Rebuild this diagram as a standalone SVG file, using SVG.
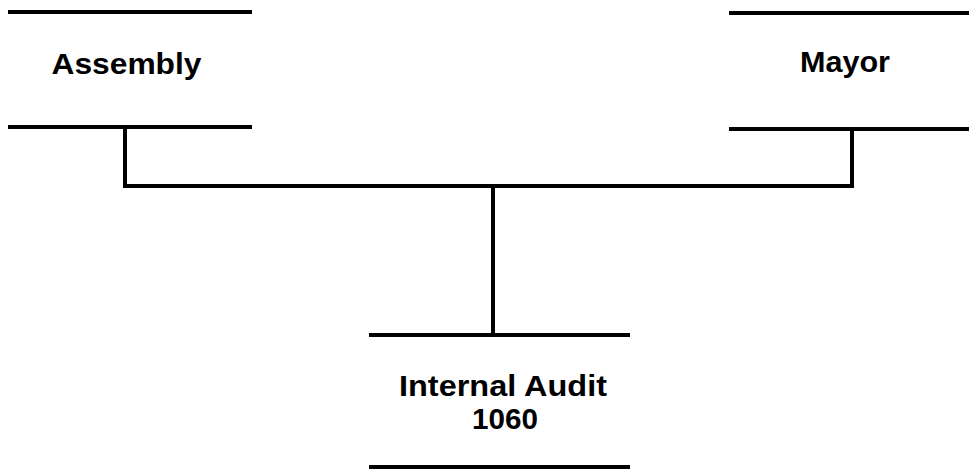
<svg xmlns="http://www.w3.org/2000/svg" width="969" height="472" viewBox="0 0 969 472">
<style>
.bar{stroke:#000;stroke-width:4;fill:none}
.conn{stroke:#000;stroke-width:4;fill:none;stroke-linecap:square}
text{font-family:"Liberation Sans",Arial,sans-serif;font-weight:bold;font-size:30px;fill:#000;text-anchor:middle}
</style>
<rect width="969" height="472" fill="#fff"/>
<g id="connectors">
<path class="conn" d="M125 127 V186 H852 V129"/>
<path class="conn" d="M493 186 V335"/>
</g>
<g id="assembly">
<line class="bar" x1="8" y1="12" x2="252" y2="12"/>
<line class="bar" x1="8" y1="127" x2="252" y2="127"/>
<text x="126.5" y="74" textLength="150" lengthAdjust="spacingAndGlyphs">Assembly</text>
</g>
<g id="mayor">
<line class="bar" x1="729" y1="13" x2="969" y2="13"/>
<line class="bar" x1="729" y1="129" x2="969" y2="129"/>
<text x="845" y="72" textLength="90" lengthAdjust="spacingAndGlyphs">Mayor</text>
</g>
<g id="internal-audit">
<line class="bar" x1="369" y1="335" x2="630" y2="335"/>
<line class="bar" x1="369" y1="467" x2="630" y2="467"/>
<text x="503" y="396" textLength="208" lengthAdjust="spacingAndGlyphs">Internal Audit</text>
<text x="505" y="429" textLength="66" lengthAdjust="spacingAndGlyphs">1060</text>
</g>
</svg>
